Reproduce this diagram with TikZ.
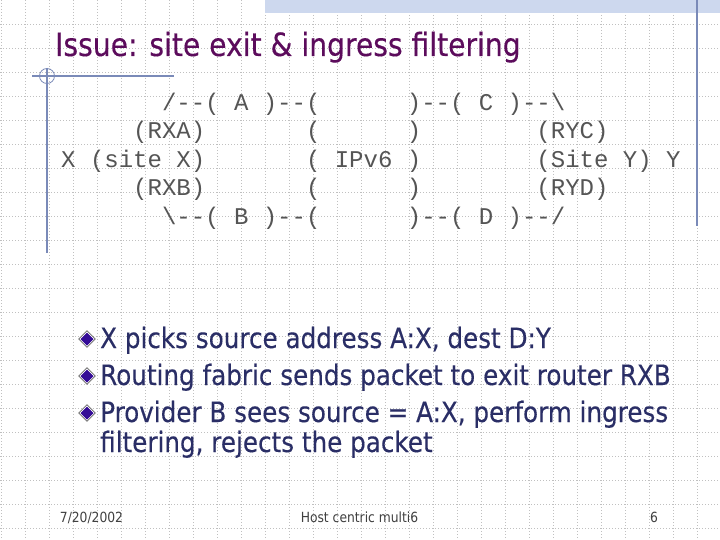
\documentclass[tikz,border=0pt]{standalone}
\usepackage{fontspec}
\setmainfont[FakeStretch=0.88,FakeBold=0.3]{DejaVu Sans}
\newfontfamily\footf[FakeStretch=0.88]{DejaVu Sans}
\newfontfamily\monof{Liberation Mono}
\definecolor{gridc}{RGB}{192,192,192}
\definecolor{bandc}{RGB}{205,216,238}
\definecolor{rulec}{RGB}{122,138,184}
\definecolor{titlec}{RGB}{92,12,92}
\definecolor{bodyc}{RGB}{42,46,102}
\definecolor{monoc}{RGB}{85,85,85}
\definecolor{footc}{RGB}{64,64,64}
\definecolor{bulletc}{RGB}{52,12,150}
\usetikzlibrary{shapes.geometric}
\tikzset{
  gridline/.style={gridc, line width=0.6pt, dash pattern=on 1pt off 2pt},
  rule/.style={rulec, line width=1.2pt},
  ascii/.style={anchor=base west, inner sep=0pt, text=monoc, font=\monof\fontsize{24}{28}\selectfont},
  bodytext/.style={anchor=base west, inner sep=0pt, text=bodyc, font=\fontsize{28}{34}\selectfont},
  foot/.style={anchor=base, inner sep=0pt, text=footc, font=\footf\fontsize{14}{17}\selectfont},
  bulletmark/.style={diamond, draw=black, line width=0.4pt, fill=white, minimum width=17pt, minimum height=17pt, inner sep=0pt,
    path picture={\fill[bulletc] (path picture bounding box.center) +(0,6.5) -- +(6.5,0) -- +(0,-6.5) -- +(-6.5,0) -- cycle;}},
}
\begin{document}
\begin{tikzpicture}[x=1pt,y=-1pt]
\useasboundingbox (0,0) rectangle (720,540);
\fill[white] (0,0) rectangle (720,540);
% grid
\foreach \i in {0,...,29} \draw[gridline] (24*\i+1,0) -- (24*\i+1,540);
\foreach \j in {1,...,22} \draw[gridline] (0,24*\j) -- (720,24*\j);
% top band
\fill[bandc] (265,0) rectangle (720,13);
% rules
\draw[rule] (697,0) -- (697,226);
\draw[rule] (32,76) -- (174,76);
\draw[rule] (47,68) -- (47,253);
\draw[rulec, line width=0.8pt] (47,76) circle (7.5);
% title
\node[anchor=base west, inner sep=0pt, text=titlec, font=\fontsize{32}{38}\selectfont] (title) at (55,56) {Issue: site exit \& ingress filtering};
% ascii art
\node[ascii] (l1) at (61,110.5) {~~~~~~~/--(~A~)--(~~~~~~)--(~C~)--\textbackslash};
\node[ascii] (l2) at (61,139) {~~~~~(RXA)~~~~~~~(~~~~~~)~~~~~~~~(RYC)};
\node[ascii] (l3) at (61,167.5) {X~(site~X)~~~~~~~(~IPv6~)~~~~~~~~(Site~Y)~Y};
\node[ascii] (l4) at (61,196) {~~~~~(RXB)~~~~~~~(~~~~~~)~~~~~~~~(RYD)};
\node[ascii] (l5) at (61,224.5) {~~~~~~~\textbackslash--(~B~)--(~~~~~~)--(~D~)--/};
% bullets
\node[bulletmark] (b1) at (87,339) {};
\node[bulletmark] (b2) at (87,376) {};
\node[bulletmark] (b3) at (87,413) {};
\node[bodytext] (t1) at (100,348) {X picks source address A:X, dest D:Y};
\node[bodytext] (t2) at (100,385) {Routing fabric sends packet to exit router RXB};
\node[bodytext] (t3) at (100,422) {Provider B sees source = A:X, perform ingress};
\node[bodytext] (t4) at (100,452) {filtering, rejects the packet};
% footer
\node[foot] (f1) at (91.5,522) {7/20/2002};
\node[foot] (f2) at (359.5,522) {Host centric multi6};
\node[foot] (f3) at (654,522) {6};
\end{tikzpicture}
\end{document}
